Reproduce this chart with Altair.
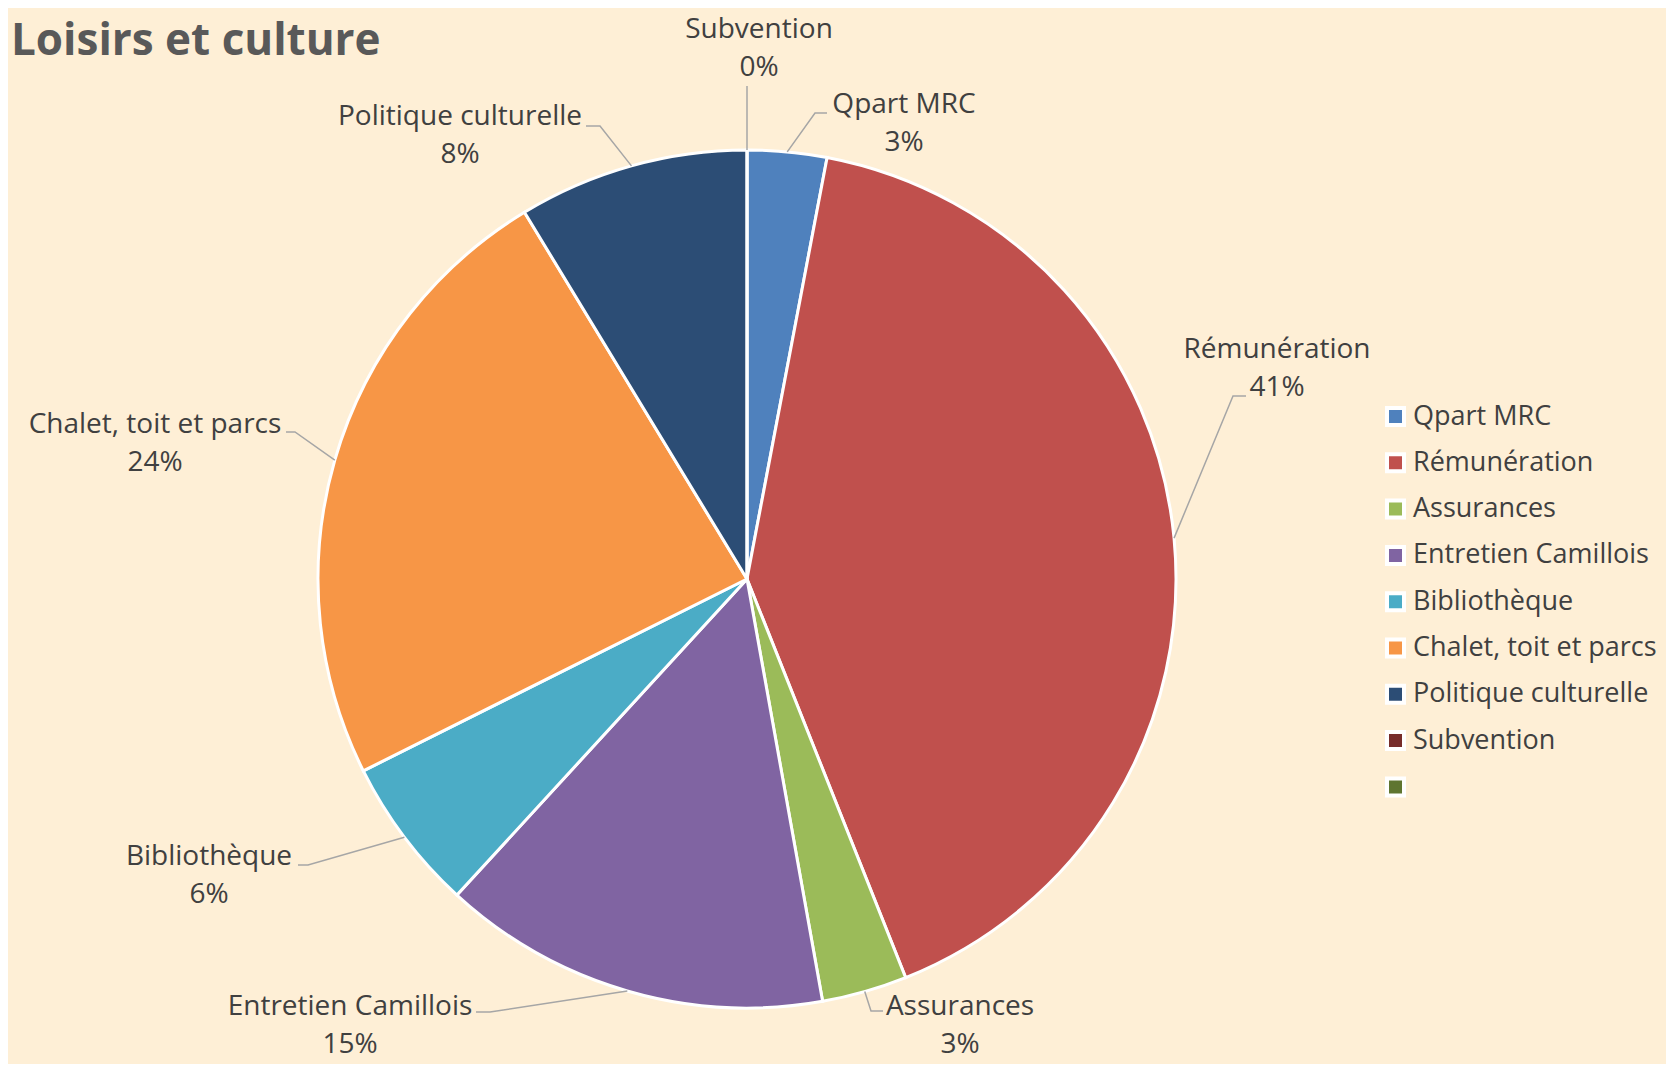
import altair as alt
import numpy as np
import pandas as pd

# ---- data ----
title_text = ["Loisirs et culture"]
categories = ["Qpart MRC", "Rémunération", "Assurances", "Entretien Camillois",
              "Bibliothèque", "Chalet, toit et parcs", "Politique culturelle", "Subvention"]
shares = [2.99, 40.98, 3.21, 14.64, 5.80, 23.70, 8.68, 0.0]
pct_labels = ["3%", "41%", "3%", "15%", "6%", "24%", "8%", "0%"]
legend_blank = " "
colors = ["#4F81BD", "#C0504D", "#9BBB59", "#8064A2", "#4BACC6",
          "#F79646", "#2C4D75", "#772C2A", "#5F7530"]

# ---- label layout (pixel offsets from the pie centre, y pointing up) ----
label_x = [157, 530, 213, -397, -538, -592, -287, 12]
label_y = [466, 221, -436, -436, -286, 146, 454, 541]
elbow_x = [68, 486, 124, -257, -439, -452, -147, 0]
elbow_y = [466, 183, -432, -433, -286, 147, 453, 493]
tail = [12, 13, 12, -14, -10, -9, -14, 0]
title_pos = (-736, 524)

W, H = 1658, 1056
CX, CY = 739, 571
R = 429
LINE_GAP = 38
FONT = "Open Sans"
TEXT_COLOR = "#404040"

xs = alt.Scale(domain=[-CX, W - CX], nice=False, zero=False)
ys = alt.Scale(domain=[-(H - CY), CY], nice=False, zero=False)

pie_df = pd.DataFrame({"category": categories, "share": shares,
                       "idx": list(range(len(categories)))})

vals = np.array(shares, dtype=float)
cum = np.cumsum(vals)
mid = (cum - vals / 2) / vals.sum() * 2 * np.pi

lead_rows = []
for i, c in enumerate(categories):
    ex, ey = R * np.sin(mid[i]), R * np.cos(mid[i])
    lead_rows.append({"category": c, "o": 0, "x": ex, "y": ey})
    lead_rows.append({"category": c, "o": 1, "x": elbow_x[i], "y": elbow_y[i]})
    lead_rows.append({"category": c, "o": 2, "x": elbow_x[i] + tail[i], "y": elbow_y[i]})
lead_df = pd.DataFrame(lead_rows)

lab_df = pd.DataFrame({"category": categories, "pct": pct_labels,
                       "x": label_x, "y1": label_y,
                       "y2": [v - LINE_GAP for v in label_y]})

title_df = pd.DataFrame({"t": title_text, "x": [title_pos[0]], "y": [title_pos[1]]})

pie = alt.Chart(pie_df).mark_arc(outerRadius=R, stroke="white", strokeWidth=3).encode(
    theta=alt.Theta("share:Q", stack=True),
    order=alt.Order("idx:Q"),
    color=alt.Color("category:N",
                    scale=alt.Scale(domain=categories + [legend_blank], range=colors),
                    legend=alt.Legend(title=None, orient="none", legendX=1374, legendY=395,
                                      symbolType="square", symbolSize=289,
                                      symbolStrokeColor="white", symbolStrokeWidth=4,
                                      symbolOpacity=1,
                                      labelFont=FONT, labelFontSize=27, labelColor=TEXT_COLOR,
                                      rowPadding=13.3, labelOffset=4, padding=0,
                                      labelLimit=400)),
    x=alt.XDatum(0, scale=xs, axis=None),
    y=alt.YDatum(0, scale=ys, axis=None),
)

leaders = alt.Chart(lead_df).mark_line(color="#A6A6A6", strokeWidth=1.5).encode(
    x=alt.X("x:Q", scale=xs, axis=None),
    y=alt.Y("y:Q", scale=ys, axis=None),
    detail="category:N",
    order="o:Q",
)

names = alt.Chart(lab_df).mark_text(font=FONT, fontSize=28, color=TEXT_COLOR,
                                    align="center", baseline="alphabetic").encode(
    x=alt.X("x:Q", scale=xs, axis=None),
    y=alt.Y("y1:Q", scale=ys, axis=None),
    text="category:N",
)

pcts = alt.Chart(lab_df).mark_text(font=FONT, fontSize=28, color=TEXT_COLOR,
                                   align="center", baseline="alphabetic").encode(
    x=alt.X("x:Q", scale=xs, axis=None),
    y=alt.Y("y2:Q", scale=ys, axis=None),
    text="pct:N",
)

title = alt.Chart(title_df).mark_text(font=FONT, fontSize=44, fontWeight="bold",
                                      color="#595959", align="left",
                                      baseline="alphabetic").encode(
    x=alt.X("x:Q", scale=xs, axis=None),
    y=alt.Y("y:Q", scale=ys, axis=None),
    text="t:N",
)

chart = alt.layer(pie, leaders, names, pcts, title).properties(
    width=W, height=H, padding=0,
    autosize=alt.AutoSizeParams(type="none"),
    background="#FEEFD6",
).configure_view(stroke=None)

chart.save("out.html", embed_options={"renderer": "svg", "actions": False})
